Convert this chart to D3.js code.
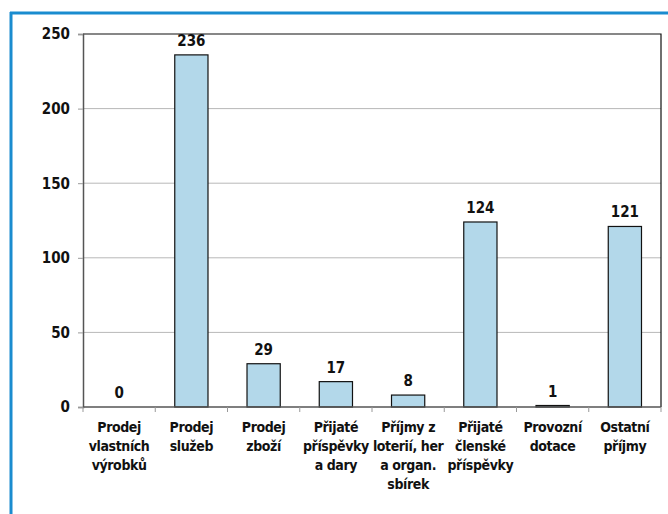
<!DOCTYPE html>
<html>
<head>
<meta charset="utf-8">
<script src="https://cdn.jsdelivr.net/npm/d3@7"></script>
<style>
    body { margin: 0; background: #fff; }
    svg text { font-family: "DejaVu Sans Condensed", "Noto Sans", sans-serif; font-weight: bold; fill: #111; }
</style>
</head>
<body>
<svg id="chart" width="668" height="514"></svg>
<script>
    //  the data
    const categories = [
        ["Prodej", "vlastních", "výrobků"],
        ["Prodej", "služeb"],
        ["Prodej", "zboží"],
        ["Přijaté", "příspěvky", "a dary"],
        ["Příjmy z", "loterií, her", "a organ.", "sbírek"],
        ["Přijaté", "členské", "příspěvky"],
        ["Provozní", "dotace"],
        ["Ostatní", "příjmy"]
    ];
    const values = [0, 236, 29, 17, 8, 124, 1, 121];
    const yTicks = [0, 50, 100, 150, 200, 250];

    const svg = d3.select('#chart');
    const plotLeft = 83, plotRight = 661, plotTop = 34, plotBottom = 407;

    //  blue frame
    svg.append('line').attr('x1', 11).attr('x2', 11).attr('y1', 12).attr('y2', 514)
        .attr('stroke', '#1a8ccf').attr('stroke-width', 3);
    svg.append('line').attr('x1', 10).attr('x2', 668).attr('y1', 13).attr('y2', 13)
        .attr('stroke', '#1a8ccf').attr('stroke-width', 3);

    const x = d3.scaleBand().domain(d3.range(categories.length))
        .range([plotLeft, plotRight]).paddingInner(0.54).paddingOuter(0.27);
    const y = d3.scaleLinear().domain([0, 250]).range([plotBottom, plotTop]);

    //  gridlines
    svg.append('g').selectAll('line').data(yTicks.filter(t => t > 0 && t < 250)).join('line')
        .attr('x1', plotLeft).attr('x2', plotRight)
        .attr('y1', d => y(d)).attr('y2', d => y(d))
        .attr('stroke', '#b8b8b8').attr('stroke-width', 1);

    //  plot border top and right
    svg.append('path')
        .attr('d', `M${plotLeft},${y(250)}H${plotRight}V${plotBottom}`)
        .attr('fill', 'none').attr('stroke', '#111').attr('stroke-width', 1.2);

    //  y axis
    const yAxis = svg.append('g').attr('transform', `translate(${plotLeft},0)`)
        .call(d3.axisLeft(y).tickValues(yTicks).tickSize(5).tickPadding(8));
    yAxis.select('.domain').attr('stroke', '#555').attr('stroke-width', 1.5);
    yAxis.selectAll('.tick line').attr('stroke', '#999');
    yAxis.selectAll('.tick text').style('font-size', '15px').attr('fill', '#111');

    //  bars
    svg.append('g').selectAll('rect').data(values).join('rect')
        .attr('x', (d, i) => x(i)).attr('width', x.bandwidth())
        .attr('y', d => y(d)).attr('height', d => plotBottom - y(d))
        .attr('fill', '#b3d8ea').attr('stroke', '#111').attr('stroke-width', 1.2);

    //  value labels
    svg.append('g').selectAll('text').data(values).join('text')
        .attr('x', (d, i) => x(i) + x.bandwidth() / 2)
        .attr('y', d => y(d) - 9)
        .attr('text-anchor', 'middle')
        .style('font-size', '15px')
        .text(d => d);

    //  x axis line and ticks at category boundaries
    svg.append('line').attr('x1', plotLeft).attr('x2', plotRight).attr('y1', plotBottom).attr('y2', plotBottom)
        .attr('stroke', '#555').attr('stroke-width', 1.5);
    const step = (plotRight - plotLeft) / categories.length;
    svg.append('g').selectAll('line').data(d3.range(categories.length + 1)).join('line')
        .attr('x1', i => plotLeft + i * step).attr('x2', i => plotLeft + i * step)
        .attr('y1', plotBottom).attr('y2', plotBottom + 5)
        .attr('stroke', '#999');

    //  category labels
    const labels = svg.append('g').selectAll('text').data(categories).join('text')
        .attr('text-anchor', 'middle')
        .style('font-size', '14px')
        .style('letter-spacing', '-0.4px');
    labels.selectAll('tspan').data((d, i) => d.map(s => ({s, i}))).join('tspan')
        .attr('x', d => x(d.i) + x.bandwidth() / 2)
        .attr('y', (d, j) => 432 + j * 19)
        .text(d => d.s);
</script>
</body>
</html>
